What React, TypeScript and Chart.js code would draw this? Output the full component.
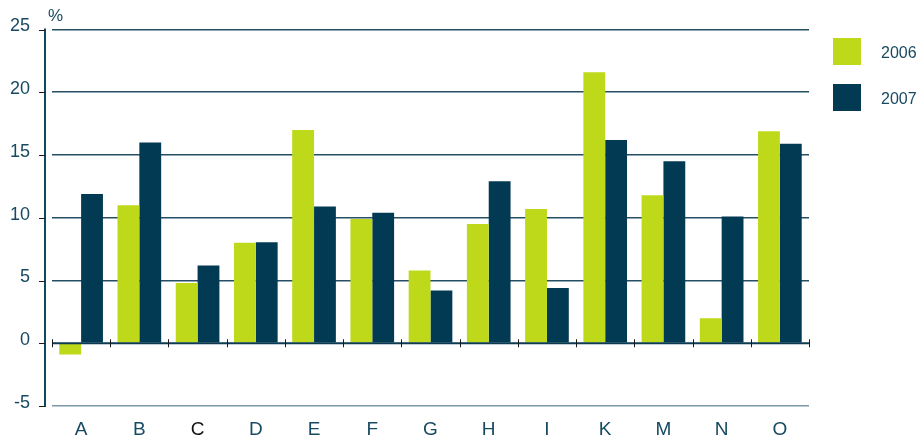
import React, { useEffect, useRef } from "react";
import { Chart, registerables } from "chart.js";

Chart.register(...registerables);

const categories = ["A", "B", "C", "D", "E", "F", "G", "H", "I", "K", "M", "N", "O"];
const series2006 = [-0.9, 11.0, 4.8, 8.0, 17.0, 9.9, 5.8, 9.5, 10.7, 21.6, 11.8, 2.0, 16.9];
const series2007 = [11.9, 16.0, 6.2, 8.05, 10.9, 10.4, 4.2, 12.9, 4.4, 16.2, 14.5, 10.1, 15.9];
const seriesNames = ["2006", "2007"];
const yTicks = [-5, 0, 5, 10, 15, 20, 25];
const unitLabel = "%";

const LIME = "#bed919";
const NAVY = "#023a54";
const TEXT = "#174a61";
const FONT = "Arial, 'Liberation Sans', sans-serif";

const decorPlugin = {
  id: "decor",
  afterDatasetsDraw(chart: any) {
    const ctx = chart.ctx;
    const area = chart.chartArea;
    const y = chart.scales.y;
    const y0 = y.getPixelForValue(0);
    ctx.save();
    // zero axis line
    ctx.strokeStyle = "#0c3b52";
    ctx.lineWidth = 2;
    ctx.beginPath();
    ctx.moveTo(area.left, y0);
    ctx.lineTo(area.right, y0);
    ctx.stroke();
    // category boundary ticks
    const n = categories.length;
    const w = (area.right - area.left) / n;
    ctx.strokeStyle = "#1a1a1a";
    ctx.lineWidth = 1;
    for (let i = 0; i <= n; i++) {
      const px = Math.round(area.left + i * w) + 0.5;
      ctx.beginPath();
      ctx.moveTo(px, y0 - 4);
      ctx.lineTo(px, y0 + 4);
      ctx.stroke();
    }
    // y axis line
    const ax = area.left - 7;
    ctx.strokeStyle = "#0f4a63";
    ctx.lineWidth = 2;
    ctx.beginPath();
    ctx.moveTo(ax, area.top - 1);
    ctx.lineTo(ax, area.bottom + 1);
    ctx.stroke();
    ctx.lineWidth = 1;
    ctx.strokeStyle = "#1a1a1a";
    for (const v of yTicks) {
      const py = Math.round(y.getPixelForValue(v)) + 0.5;
      ctx.beginPath();
      ctx.moveTo(ax - 6, py);
      ctx.lineTo(ax, py);
      ctx.stroke();
    }
    // unit label
    ctx.fillStyle = TEXT;
    ctx.font = `17px ${FONT}`;
    ctx.textAlign = "left";
    ctx.textBaseline = "alphabetic";
    ctx.fillText(unitLabel, 48, 21);
    // legend
    const colors = [LIME, NAVY];
    const tops = [38, 84];
    ctx.font = `16px ${FONT}`;
    ctx.textBaseline = "middle";
    for (let i = 0; i < 2; i++) {
      ctx.fillStyle = colors[i];
      ctx.fillRect(833, tops[i], 28, 27);
      ctx.fillStyle = TEXT;
      ctx.fillText(seriesNames[i], 881, tops[i] + 16);
    }
    ctx.restore();
  },
};

export default function App() {
  const ref = useRef<HTMLCanvasElement | null>(null);
  useEffect(() => {
    if (!ref.current) return;
    const chart = new Chart(ref.current, {
      type: "bar",
      data: {
        labels: categories,
        datasets: [
          { label: seriesNames[0], data: series2006, backgroundColor: LIME, borderWidth: 0 },
          { label: seriesNames[1], data: series2007, backgroundColor: NAVY, borderWidth: 0 },
        ],
      },
      options: {
        responsive: false,
        animation: false,
        devicePixelRatio: 1,
        layout: { padding: { left: 0, top: 29.5, right: 111, bottom: 0 } },
        plugins: { legend: { display: false }, tooltip: { enabled: false } },
        datasets: { bar: { categoryPercentage: 0.75, barPercentage: 1 } },
        scales: {
          x: {
            grid: { display: false, drawTicks: false },
            border: { display: false },
            afterFit: (s: any) => {
              s.height = 35;
              s.paddingLeft = 0;
              s.paddingRight = 0;
            },
            ticks: {
              padding: 12,
              font: { size: 19, family: FONT },
              color: (c: any) => (categories[c.index] === "C" ? "#111111" : TEXT),
              maxRotation: 0,
            },
          },
          y: {
            min: -5,
            max: 25,
            afterFit: (s: any) => {
              s.width = 52;
              s.paddingTop = 0;
              s.paddingBottom = 0;
            },
            afterBuildTicks: (s: any) => { s.ticks = yTicks.map((v) => ({ value: v })); },
            grid: {
              drawTicks: false,
              lineWidth: 1.5,
              color: (c: any) => {
                const v = c.tick ? c.tick.value : null;
                if (v === 0) return "rgba(0,0,0,0)";
                if (v === -5) return "#7d99a9";
                return "#244f65";
              },
            },
            border: { display: false },
            ticks: {
              padding: 22,
              labelOffset: -3,
              font: { size: 18, family: FONT },
              color: TEXT,
            },
          },
        },
      },
      plugins: [decorPlugin],
    });
    return () => chart.destroy();
  }, []);
  return (
    <div style={{ position: "absolute", left: 0, top: 0, width: 920, height: 441, background: "#fff" }}>
      <canvas ref={ref} width={920} height={441} style={{ width: 920, height: 441, display: "block" }} />
    </div>
  );
}
